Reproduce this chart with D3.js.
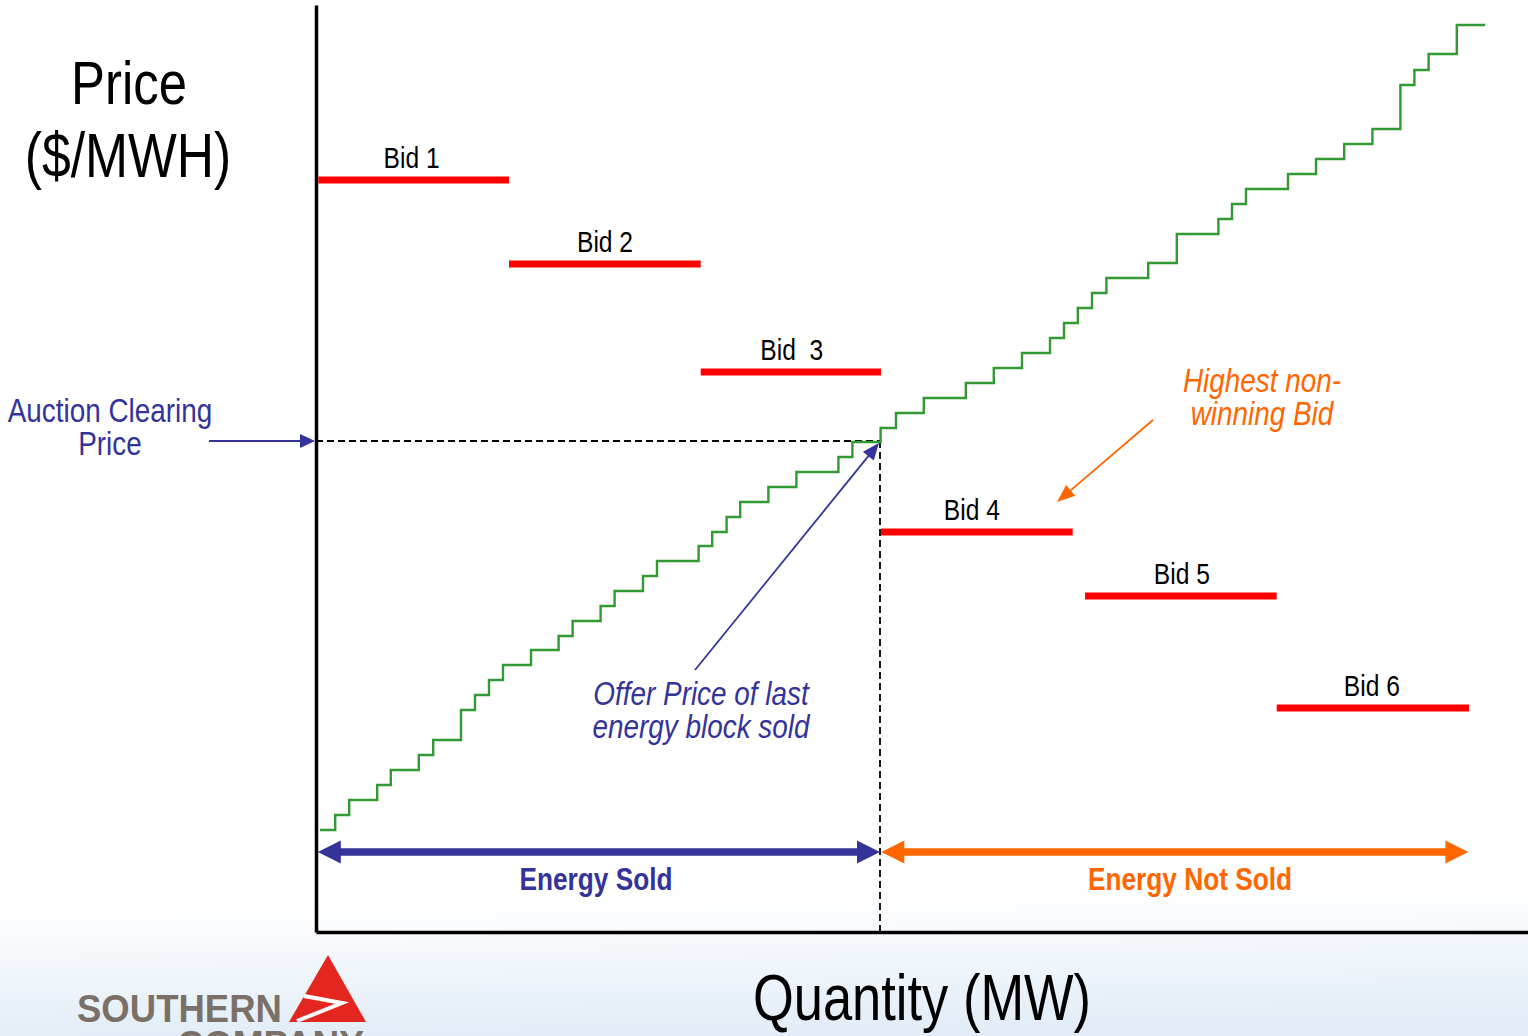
<!DOCTYPE html>
<html>
<head>
<meta charset="utf-8">
<script src="https://cdn.jsdelivr.net/npm/d3@7"></script>
<style>
  html, body { margin: 0; padding: 0; background: #ffffff; }
  svg { display: block; }
  text { font-family: "Liberation Sans", Arial, Helvetica, sans-serif; }
</style>
</head>
<body>
<svg id="chart" width="1528" height="1036"></svg>
<script>
// ---------------- DATA ----------------
// Supply (offer) curve: price of each energy block and the quantity where each block ends
const supplyStartQty = 2;
const supplyBlockEnd = [9.6, 16.6, 30.6, 37.4, 51.4, 58.6, 72.5, 79.5, 86.5, 93.5,
  107.5, 121.3, 128.3, 142.3, 149.3, 163.5, 170.5, 191.3, 198.1, 205.3,
  212.1, 226.2, 240.2, 261.2, 268.2, 282.3, 290.0, 303.9, 324.9, 338.9,
  353.0, 367.0, 374.0, 380.9, 388.0, 395.2, 416.1, 430.4, 451.2, 458.0,
  465.0, 486.0, 500.0, 514.1, 528.2, 542.2, 549.2, 556.3, 570.4, 584.6];
const supplyBlockPrice = [10.2, 11.7, 13.2, 14.7, 16.2, 17.7, 19.2, 22.2, 23.7, 25.2,
  26.7, 28.2, 29.6, 31.1, 32.6, 34.1, 35.6, 37.1, 38.6, 40.0,
  41.5, 43.0, 44.5, 46.0, 47.5, 49.0, 50.4, 51.9, 53.4, 54.9,
  56.4, 57.9, 59.4, 60.9, 62.4, 63.9, 65.4, 66.9, 69.8, 71.3,
  72.8, 74.3, 75.8, 77.3, 78.8, 80.3, 84.7, 86.2, 87.8, 90.7];

// Demand bids
const bidLabels = ["Bid 1", "Bid 2", "Bid  3", "Bid 4", "Bid 5", "Bid 6"];
const bidStart  = [1.15, 96.5, 192.35, 282.5, 384.5, 480.35];
const bidEnd    = [96.5, 192.35, 282.5, 378.35, 480.35, 576.5];
const bidPrice  = [75.2, 66.8, 56.0, 40.0, 33.6, 22.4];
const bidLabelQty = [47.8, 144.5, 237.9, 327.9, 432.9, 527.9];

// Market clearing
const clearingQty = 282;
const clearingPrice = 49.1;

// Energy sold / not sold spans
const spanLabels = ["Energy Sold", "Energy Not Sold"];
const spanStart  = [0.9, 282.65];
const spanEnd    = [282.0, 576.2];
const spanLabelQty = [140, 437];
const spanPrice  = 8.0;

// Axis titles
const yTitle = ["Price", "($/MWH)"];
const xTitle = "Quantity (MW)";

// ---------------- SCALES ----------------
const svg = d3.select("#chart");
const x = d3.scaleLinear().domain([0, 606]).range([316, 1528]);
const y = d3.scaleLinear().domain([0, 92.7]).range([932, 5]);

const NAVY = "#333399", ORANGE = "#FF6600", RED = "#FF0000", GREEN = "#339933";
const NARROW = 0.82; // condensed (Arial Narrow–like) text

// condensed multi-line centred text
function narrowText(cx, lines, ys, size, opts = {}) {
  const g = svg.append("g").attr("transform", `translate(${cx},0) scale(${NARROW},1)`);
  const t = g.append("text").attr("text-anchor", "middle").attr("font-size", size)
    .attr("fill", opts.fill || "#000")
    .attr("font-weight", opts.weight || "normal")
    .attr("font-style", opts.style || "normal")
    .attr("xml:space", "preserve");
  lines.forEach((l, i) => t.append("tspan").attr("x", 0).attr("y", ys[i]).text(l));
  return t;
}

// ---------------- BACKGROUND ----------------
const defs = svg.append("defs");
const bg = defs.append("linearGradient").attr("id", "bgGrad")
  .attr("x1", 0).attr("y1", 0).attr("x2", 0.15).attr("y2", 1);
bg.append("stop").attr("offset", 0).attr("stop-color", "#ffffff").attr("stop-opacity", 0);
bg.append("stop").attr("offset", 0.5).attr("stop-color", "#f4f8fc").attr("stop-opacity", 1);
bg.append("stop").attr("offset", 1).attr("stop-color", "#e2edf7").attr("stop-opacity", 1);
svg.append("rect").attr("x", 0).attr("y", 0).attr("width", 1528).attr("height", 1036).attr("fill", "#ffffff");
svg.append("rect").attr("x", 0).attr("y", 880).attr("width", 1528).attr("height", 156).attr("fill", "url(#bgGrad)");

// ---------------- AXES ----------------
const xAxis = svg.append("g").attr("transform", `translate(0,${y(0)})`)
  .call(d3.axisBottom(x).tickValues([]).tickSizeOuter(0));
const yAxis = svg.append("g").attr("transform", `translate(${x(0)},0)`)
  .call(d3.axisLeft(y).tickValues([]).tickSizeOuter(0));
[xAxis, yAxis].forEach(g => g.select(".domain").attr("stroke", "#000").attr("stroke-width", 3.5));

// ---------------- CLEARING GUIDES ----------------
svg.append("line")
  .attr("x1", x(0)).attr("x2", x(clearingQty))
  .attr("y1", y(clearingPrice)).attr("y2", y(clearingPrice))
  .attr("stroke", "#000").attr("stroke-width", 1.8).attr("stroke-dasharray", "7,4");
svg.append("line")
  .attr("x1", x(clearingQty)).attr("x2", x(clearingQty))
  .attr("y1", y(clearingPrice)).attr("y2", y(0))
  .attr("stroke", "#000").attr("stroke-width", 1.8).attr("stroke-dasharray", "7,4");

// ---------------- SUPPLY STEP CURVE ----------------
const stepPts = [[supplyStartQty, supplyBlockPrice[0]]];
for (let i = 0; i < supplyBlockEnd.length - 1; i++) {
  stepPts.push([supplyBlockEnd[i], supplyBlockPrice[i + 1]]);
}
stepPts.push([supplyBlockEnd[supplyBlockEnd.length - 1], supplyBlockPrice[supplyBlockPrice.length - 1]]);
const stepLine = d3.line().x(d => x(d[0])).y(d => y(d[1])).curve(d3.curveStepAfter);
svg.append("path").datum(stepPts)
  .attr("d", stepLine).attr("fill", "none")
  .attr("stroke", GREEN).attr("stroke-width", 2.4);

// ---------------- BIDS ----------------
const bids = bidLabels.map((l, i) => ({ label: l, s: bidStart[i], e: bidEnd[i], p: bidPrice[i], lq: bidLabelQty[i] }));
svg.selectAll(".bid").data(bids).enter().append("line")
  .attr("class", "bid")
  .attr("x1", d => x(d.s)).attr("x2", d => x(d.e))
  .attr("y1", d => y(d.p)).attr("y2", d => y(d.p))
  .attr("stroke", RED).attr("stroke-width", 7);
bids.forEach(d => narrowText(x(d.lq), [d.label], [y(d.p) - 12], 30));

// ---------------- ARROW HELPERS ----------------
function arrowHead(x0, y0, x1, y1, len, half, color) {
  const a = Math.atan2(y1 - y0, x1 - x0);
  const bx = x1 - len * Math.cos(a), by = y1 - len * Math.sin(a);
  const px = -Math.sin(a) * half, py = Math.cos(a) * half;
  svg.append("path")
    .attr("d", `M${x1},${y1}L${bx + px},${by + py}L${bx - px},${by - py}Z`)
    .attr("fill", color);
}
function arrow(x0, y0, x1, y1, color, w, len, half) {
  const a = Math.atan2(y1 - y0, x1 - x0);
  svg.append("line").attr("x1", x0).attr("y1", y0)
    .attr("x2", x1 - (len - 2) * Math.cos(a)).attr("y2", y1 - (len - 2) * Math.sin(a))
    .attr("stroke", color).attr("stroke-width", w);
  arrowHead(x0, y0, x1, y1, len, half, color);
}

// ---------------- ENERGY SPANS ----------------
const spanColors = [NAVY, ORANGE];
spanLabels.forEach((lbl, i) => {
  const xa = x(spanStart[i]), xb = x(spanEnd[i]), yy = y(spanPrice);
  svg.append("line").attr("x1", xa + 20).attr("x2", xb - 20).attr("y1", yy).attr("y2", yy)
    .attr("stroke", spanColors[i]).attr("stroke-width", 7.5);
  arrowHead(xb, yy, xa, yy, 23, 11.5, spanColors[i]);
  arrowHead(xa, yy, xb, yy, 23, 11.5, spanColors[i]);
  narrowText(x(spanLabelQty[i]), [lbl], [yy + 38], 32, { fill: spanColors[i], weight: "bold" });
});

// ---------------- ANNOTATIONS ----------------
// Auction clearing price
narrowText(110, ["Auction Clearing", "Price"], [422, 455], 34, { fill: NAVY });
arrow(209, y(clearingPrice), x(0) - 1, y(clearingPrice), NAVY, 1.8, 15, 7);

// Offer price of last energy block sold
arrow(695, 670, x(clearingQty) - 1, y(clearingPrice) + 2, NAVY, 1.8, 17, 7);
narrowText(701, ["Offer Price of last", "energy block sold"], [705, 738], 34, { fill: NAVY, style: "italic" });

// Highest non-winning bid
arrow(1153, 420, 1057, 502, ORANGE, 1.8, 18, 7);
narrowText(1262, ["Highest non-", "winning Bid"], [392, 425], 34, { fill: ORANGE, style: "italic" });

// ---------------- AXIS TITLES ----------------
narrowText(129, [yTitle[0]], [104], 62);
narrowText(128, [yTitle[1]], [177], 63);
narrowText(922, [xTitle], [1020], 64);

// ---------------- LOGO ----------------
const logo = svg.append("g");
logo.append("text").attr("x", 77).attr("y", 1022)
  .attr("font-size", 38).attr("font-weight", "bold").attr("fill", "#7b7068")
  .attr("textLength", 205).attr("lengthAdjust", "spacingAndGlyphs").text("SOUTHERN");
logo.append("text").attr("x", 177).attr("y", 1058)
  .attr("font-size", 38).attr("font-weight", "bold").attr("fill", "#7b7068")
  .attr("textLength", 187).attr("lengthAdjust", "spacingAndGlyphs").text("COMPANY");
logo.append("path").attr("d", "M328,955L289,1022L366,1022Z").attr("fill", "#e3261f");
logo.append("path").attr("d", "M304,996L342,1003L297,1021")
  .attr("fill", "none").attr("stroke", "#ffffff").attr("stroke-width", 4).attr("stroke-linejoin", "miter");
</script>
</body>
</html>
